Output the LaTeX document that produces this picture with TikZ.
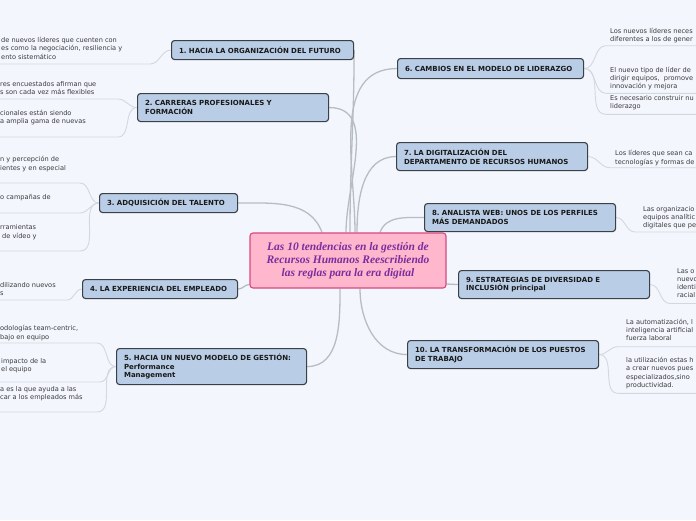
\documentclass[tikz,border=0pt]{standalone}
\usepackage{fontspec}
\setmainfont{DejaVu Sans}
\newfontfamily\hubfont{Liberation Serif}
\usepackage{xcolor}
\definecolor{canvas}{HTML}{F3F6FD}
\definecolor{topicC}{HTML}{B9CDE6}
\definecolor{edgeC}{HTML}{3B3F46}
\definecolor{hubC}{HTML}{FFB7CD}
\definecolor{hubEdge}{HTML}{D9487D}
\definecolor{hubText}{HTML}{7A2E9E}
\definecolor{linkC}{HTML}{B8BCC4}
\definecolor{leafC}{HTML}{D3D7DF}
\definecolor{leafText}{HTML}{3A3A3A}
\pgfdeclarelayer{links}
\pgfsetlayers{links,main}
\frenchspacing

\begin{document}
\begin{tikzpicture}[x=1pt,y=1pt,
  topic/.style={draw=edgeC,fill=topicC,rounded corners=3pt,line width=1.1pt,
                anchor=north west,align=left,inner xsep=7.5pt,inner ysep=0pt,
                font=\fontsize{7}{8.7}\selectfont\bfseries,text=black!90},
  hub/.style={draw=hubEdge,fill=hubC,rounded corners=3pt,line width=1.1pt,
              minimum width=196pt,minimum height=55pt,align=center,text=hubText,
              font=\hubfont\fontsize{11.5}{13}\selectfont\bfseries\itshape},
  leaf/.style={anchor=north west,align=left,inner sep=0pt,text=leafText,
               font=\fontsize{6.6}{8.3}\selectfont},
  link/.style={draw=linkC,line width=1.3pt},
  twig/.style={draw=leafC,line width=0.9pt}]
\useasboundingbox (0,0) rectangle (696,-520);

% central idea
\node[hub] (c) at (348,-260.5)
  {Las 10 tendencias en la gestión de\\Recursos Humanos Reescribiendo\\las reglas para la era digital};

% topics, left
\node[topic,text width=167pt,minimum height=19pt] (t1) at (171,-40) {1. HACIA LA ORGANIZACIÓN DEL FUTURO};
\node[topic,text width=176pt,minimum height=28pt] (t2) at (137,-93) {2. CARRERAS PROFESIONALES Y\\FORMACIÓN};
\node[topic,text width=123pt,minimum height=19pt] (t3) at (99,-193) {3. ADQUISICIÓN DEL TALENTO};
\node[topic,text width=140pt,minimum height=19pt] (t4) at (82,-279) {4. LA EXPERIENCIA DEL EMPLEADO};
\node[topic,text width=175pt,minimum height=36pt] (t5) at (116,-348) {5. HACIA UN NUEVO MODELO DE GESTIÓN:\\Performance\\Management};

% topics, right
\node[topic,text width=171pt,minimum height=20pt] (t6) at (397,-58) {6. CAMBIOS EN EL MODELO DE LIDERAZGO};
\node[topic,text width=176pt,minimum height=28pt] (t7) at (396,-142) {7. LA DIGITALIZACIÓN DEL\\DEPARTAMENTO DE RECURSOS HUMANOS};
\node[topic,text width=176pt,minimum height=28pt] (t8) at (424,-203) {8. ANALISTA WEB: UNOS DE LOS PERFILES\\MÁS DEMANDADOS};
\node[topic,text width=176pt,minimum height=28pt] (t9) at (458,-270) {9. ESTRATEGIAS DE DIVERSIDAD E\\INCLUSIÓN principal};
\node[topic,text width=176pt,minimum height=28pt] (t10) at (407,-340) {10. LA TRANSFORMACIÓN DE LOS PUESTOS\\DE TRABAJO};

% leaves, left
\node[leaf] (l1a) at (1,-37) {de nuevos líderes que cuenten con\\es como la negociación, resiliencia y\\ento sistemático};
\node[leaf] (l2a) at (0,-81) {res encuestados afirman que\\s son cada vez más flexibles};
\node[leaf] (l2b) at (0,-110) {cionales están siendo\\a amplia gama de nuevas};
\node[leaf] (l3a) at (0,-156.3) {n y percepción de\\ientes y en especial};
\node[leaf] (l3b) at (0,-194.3) {o campañas de};
\node[leaf] (l3c) at (0,-224.5) {rramientas\\\hspace{2pt}de vídeo y};
\node[leaf] (l4) at (0,-282) {dilizando nuevos\\s};
\node[leaf] (l5a) at (0,-325.3) {odologías team-centric,\\bajo en equipo};
\node[leaf] (l5b) at (1,-358) {impacto de la\\el equipo};
\node[leaf] (l5c) at (0,-386) {a es la que ayuda a las\\car a los empleados más};

% leaves, right
\node[leaf] (l6a) at (610,-27.7) {Los nuevos líderes neces\\diferentes a los de gener};
\node[leaf] (l6b) at (610,-66.7) {El nuevo tipo de líder de\\dirigir equipos,\ \ promove\\innovación y mejora};
\node[leaf] (l6c) at (610,-95.3) {Es necesario construir nu\\liderazgo};
\node[leaf] (l7) at (615,-150.3) {Los líderes que sean ca\\tecnologías y formas de};
\node[leaf] (l8) at (643,-206) {Las organizacio\\equipos analític\\digitales que pe};
\node[leaf] (l9) at (677,-268) {Las o\\nuevo\\identi\\racial};
\node[leaf] (l10a) at (626,-318.7) {La automatización, l\\inteligencia artificial\\fuerza laboral};
\node[leaf] (l10b) at (626,-357) {la utilización estas h\\a crear nuevos pues\\especializados,sino\\productividad.};

% underline ends
\coordinate (u1a) at (150,-64);
\coordinate (u2a) at (118,-99);
\coordinate (u2b) at (118,-137);
\coordinate (u3a) at (80,-183);
\coordinate (u3b) at (80,-213);
\coordinate (u3c) at (80,-251);
\coordinate (u4) at (67,-300);
\coordinate (u5a) at (97,-343);
\coordinate (u5b) at (100,-382);
\coordinate (u5c) at (97,-412);
\coordinate (u6a) at (606,-45.7);
\coordinate (u6b) at (606,-93.3);
\coordinate (u6c) at (606,-114.3);
\coordinate (u7) at (610,-167.7);
\coordinate (u8) at (635,-232);
\coordinate (u9) at (670,-303.5);
\coordinate (u10a) at (618,-346.7);
\coordinate (u10b) at (618,-393.3);

\begin{pgfonlayer}{links}
\fill[canvas] (0,0) rectangle (696,-520);
% hub to topics
\draw[link] ([xshift=2pt]c.north) to[out=90,in=-90] (t1.east);
\draw[link] ([xshift=-2pt]c.north) to[out=90,in=0] (t2.east);
\draw[link] ([xshift=-26pt]c.north) to[out=110,in=0] (t3.east);
\draw[link] ([yshift=-24pt]c.west) to[out=180,in=0] (t4.east);
\draw[link] ([xshift=-8pt]c.south) to[out=-90,in=0] (t5.east);
\draw[link] ([xshift=7pt]c.north) to[out=90,in=180] (t6.west);
\draw[link] ([xshift=9pt]c.north) to[out=90,in=180] (t7.west);
\draw[link] ([xshift=32pt]c.north) to[out=70,in=180] (t8.west);
\draw[link] ([yshift=-23.5pt]c.east) -- (t9.west);
\draw[link] ([xshift=12pt]c.south) to[out=-90,in=180] (t10.west);
% topics to leaves
\draw[twig] (t1.west) to[out=180,in=0] (u1a) -- ++(-160,0);
\draw[twig] (t2.west) to[out=180,in=0] (u2a) -- ++(-130,0);
\draw[twig] (t2.west) to[out=180,in=0] (u2b) -- ++(-130,0);
\draw[twig] (t3.west) to[out=180,in=0] (u3a) -- ++(-90,0);
\draw[twig] (t3.west) to[out=180,in=0] (u3b) -- ++(-90,0);
\draw[twig] (t3.west) to[out=180,in=0] (u3c) -- ++(-90,0);
\draw[twig] (t4.west) to[out=180,in=0] (u4) -- ++(-80,0);
\draw[twig] (t5.west) to[out=180,in=0] (u5a) -- ++(-110,0);
\draw[twig] (t5.west) to[out=180,in=0] (u5b) -- ++(-110,0);
\draw[twig] (t5.west) to[out=180,in=0] (u5c) -- ++(-110,0);
\draw[twig] (t6.east) to[out=0,in=180] (u6a) -- ++(100,0);
\draw[twig] (t6.east) to[out=0,in=180] (u6b) -- ++(100,0);
\draw[twig] (t6.east) to[out=0,in=180] (u6c) -- ++(100,0);
\draw[twig] (t7.east) to[out=0,in=180] (u7) -- ++(100,0);
\draw[twig] (t8.east) to[out=0,in=180] (u8) -- ++(100,0);
\draw[twig] (t9.east) to[out=0,in=180] (u9) -- ++(100,0);
\draw[twig] (t10.east) to[out=0,in=180] (u10a) -- ++(100,0);
\draw[twig] (t10.east) to[out=0,in=180] (u10b) -- ++(100,0);
\end{pgfonlayer}
\end{tikzpicture}
\end{document}
